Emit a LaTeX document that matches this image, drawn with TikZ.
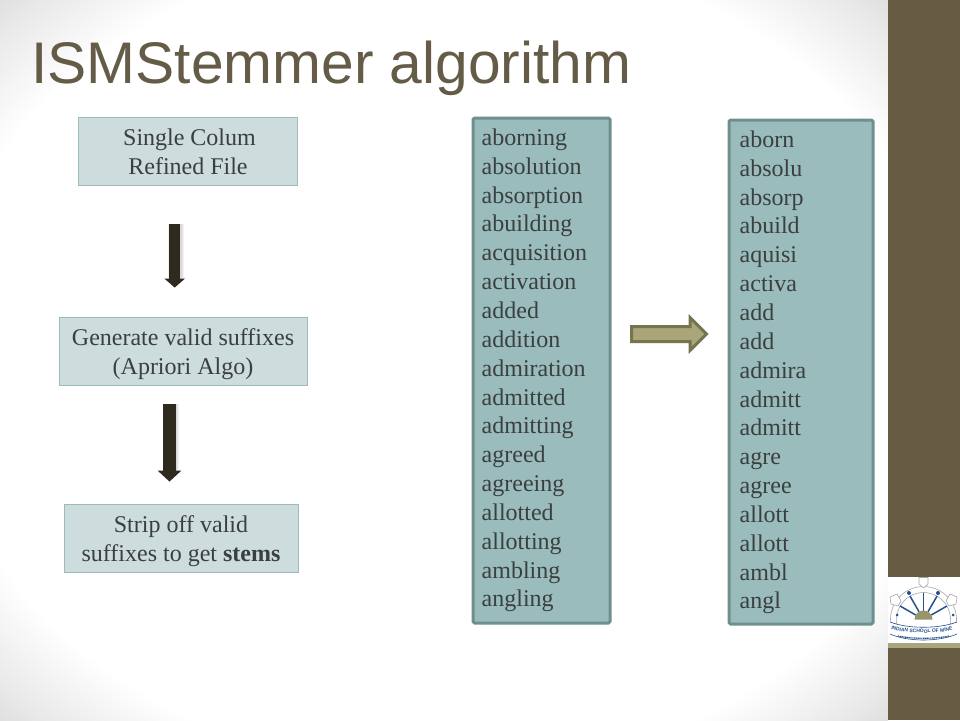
\documentclass[tikz,border=0pt]{standalone}
\usepackage{fontspec}
\setmainfont{Liberation Serif}
\newfontfamily\titlefont{Liberation Sans}
\usetikzlibrary{arrows.meta,decorations.text,calc}
\definecolor{bandc}{HTML}{665C44}
\definecolor{titlec}{HTML}{655C48}
\definecolor{boxfill}{HTML}{CDDCDC}
\definecolor{boxline}{HTML}{9DBBBB}
\definecolor{colfill}{HTML}{9BBCBC}
\definecolor{colline}{HTML}{6F8F8F}
\definecolor{txt}{HTML}{3A3F3F}
\definecolor{arrowdark}{HTML}{2E2A1E}
\definecolor{olivefill}{HTML}{A9A679}
\definecolor{oliveline}{HTML}{76734F}
\definecolor{logoblue}{HTML}{25508F}
\definecolor{logotan}{HTML}{AAA57C}
\tikzset{
  stepbox/.style={draw=boxline,fill=boxfill,line width=0.8pt,inner sep=0pt,minimum height=68pt},
  steptext/.style={inner sep=0pt,text=txt,align=center,font=\fontsize{24}{28.8}\selectfont},
  listbox/.style={draw=colline,fill=colfill,line width=3pt,inner sep=0pt,rounded corners=1.5pt},
  listtext/.style={inner sep=0pt,text=txt,align=left,font=\fontsize{24}{28.85}\selectfont},
  flowshadow/.style={line width=#1,draw=black,opacity=0.05},
  flowarrow/.style={draw=arrowdark,line width=#1},
  ray/.style={draw=logoblue,line width=1.5pt},
  crest/.style={draw=gray!70,fill=white,line width=0.6pt}
}
\begin{document}
\begin{tikzpicture}[x=1pt,y=-1pt]
\useasboundingbox (0,0) rectangle (960,720);
% background: white centre fading to grey in the corners
\begin{scope}
\clip (0,0) rectangle (888,720);
\fill[white!88!black] (0,0) rectangle (888,720);
\foreach \i in {0,1,...,30}{
  \pgfmathsetmacro{\k}{1.42-0.27*\i/30}
  \pgfmathsetmacro{\w}{88+12*\i/30}
  \fill[white!\w!black] (444,360) ellipse[x radius=444*\k,y radius=360*\k];
}
\end{scope}
\fill[bandc] (888,0) rectangle (960,720);
% title
\node[anchor=base west,inner sep=0pt,text=titlec,font=\titlefont\fontsize{58.7}{60}\selectfont] (title) at (31,83.5) {ISMStemmer algorithm};
% step boxes
\node[stepbox,minimum width=219pt] (s1) at (187.5,151) {};
\node[steptext] (s1t) at (188,152) {\hspace*{3pt}Single Colum\\Refined File};
\node[stepbox,minimum width=248.5pt] (s2) at (183.2,351) {};
\node[steptext] (s2t) at (183,354) {Generate valid suffixes\\(Apriori Algo)};
\node[stepbox,minimum width=234pt] (s3) at (181,538) {};
\node[steptext] (s3t) at (181,541) {Strip off valid\\suffixes to get \textbf{stems}};
% flow arrows
\coordinate (a1s) at ($(s1.south)+(-12.8,39)$);
\coordinate (a1e) at ($(s2.north)+(-8.5,-29)$);
\coordinate (a2s) at ($(s2.south)+(-13.7,19)$);
\coordinate (a2e) at ($(s3.north)+(-11.5,-22)$);
\foreach \d/\w in {1/12,2/14,3/16}{
  \draw[flowshadow=\w pt] ($(a1s)+(1.5,0)$) -- ($(a1e)+(1.5,-8)$);
  \draw[flowshadow=\w pt] ($(a2s)+(1.5,0)$) -- ($(a2e)+(1.5,-8)$);
}
\draw[flowarrow=10.5pt,-{Triangle[length=9pt,width=20pt]}] (a1s) -- (a1e);
\draw[flowarrow=12.5pt,-{Triangle[length=11pt,width=23pt]}] (a2s) -- (a2e);
% list boxes
\node[listbox,minimum width=137pt,minimum height=505pt] (c1) at (541.5,370.5) {};
\node[listbox,minimum width=144pt,minimum height=504pt] (c2) at (801,372) {};
\node[listtext,anchor=north west] (l1) at (481.5,128.5) {aborning\\absolution\\absorption\\abuilding\\acquisition\\activation\\added\\addition\\admiration\\admitted\\admitting\\agreed\\agreeing\\allotted\\allotting\\ambling\\angling};
\node[listtext,anchor=north west] (l2) at (739.5,130.5) {aborn\\absolu\\absorp\\abuild\\aquisi\\activa\\add\\add\\admira\\admitt\\admitt\\agre\\agree\\allott\\allott\\ambl\\angl};
% big arrow
\coordinate (big) at (669,334);
\draw[draw=oliveline,fill=olivefill,line width=3pt,miter limit=4]
  ($(big)+(-37.5,-7.5)$) -- ($(big)+(21,-7.5)$) -- ($(big)+(21,-16.5)$) -- ($(big)+(37.5,0)$)
  -- ($(big)+(21,16.5)$) -- ($(big)+(21,7.5)$) -- ($(big)+(-37.5,7.5)$) -- cycle;
% logo
\fill[white] (888,576.5) rectangle (960,643);
\fill[logotan] (888,643) rectangle (960,648);
\coordinate (sun) at (923.5,619.5);
\draw[gray!70,line width=0.6pt,fill=white] ($(sun)+(171:33)$) arc[start angle=171,end angle=369,radius=33]
  -- ($(sun)+(9:27)$) arc[start angle=9,end angle=-189,radius=27] -- cycle;
\foreach \a in {30,60,90,120,150}{
  \draw[ray] ($(sun)+(-\a:9)$) -- ($(sun)+(-\a:27)$);
}
\fill[olivefill!90!black] ($(sun)+(-9,0)$) arc[start angle=180,end angle=360,radius=9] -- cycle;
\draw[crest] (919,577.5) -- (928,577.5) -- (928,584) -- (923.5,588) -- (919,584) -- cycle;
\draw[crest] (890,597) -- (897,594) -- (901,601) -- (898,606) -- (891,604) -- cycle;
\draw[crest] (957,597) -- (950,594) -- (946,601) -- (949,606) -- (956,604) -- cycle;
\fill[logoblue] (909,593) circle (2pt) (938,593) circle (2pt) (897,615) circle (1.5pt) (953,615) circle (1.5pt);
\fill[white] (890,622) .. controls (908,629) and (939,629) .. (957,622) -- (957,634) .. controls (939,642) and (908,642) .. (890,634) -- cycle;
\draw[logoblue,line width=0.6pt] (890,622) .. controls (908,629) and (939,629) .. (957,622);
\path[decorate,decoration={text along path,text align=center,
  text={|\titlefont\fontsize{5}{6}\selectfont\bfseries\color{logoblue}|INDIAN SCHOOL OF MINES}}]
  (893,630) .. controls (910,634) and (937,634) .. (954,630);
\draw[logoblue,line width=1.2pt,dash pattern=on 1.2pt off 0.6pt] (898,636) .. controls (912,639) and (935,639) .. (949,636);
\draw[logoblue,line width=0.6pt] (890,634) .. controls (908,642) and (939,642) .. (957,634);
\end{tikzpicture}
\end{document}
